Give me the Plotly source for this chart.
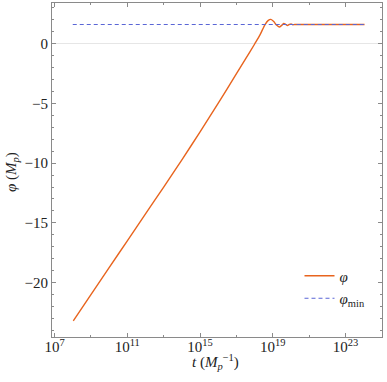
import numpy as np
import plotly.graph_objects as go

log_t = [8.03, 9.0, 10.0, 11.0, 12.0, 13.0, 14.0, 15.0, 16.0, 17.0, 17.5, 18.0,
         18.3, 18.57, 18.75, 18.89, 19.05, 19.2, 19.35, 19.5, 19.6, 19.7, 19.8,
         19.9, 20.0, 20.1, 20.2, 21.0, 22.0, 23.0, 24.04]
phi = [-23.2, -21.0, -18.75, -16.5, -14.25, -12.0, -9.72, -7.38, -4.98, -2.52, -1.28, -0.03,
       0.75, 1.6, 1.95, 2.03, 1.85, 1.55, 1.39, 1.55, 1.68, 1.62, 1.52,
       1.6, 1.65, 1.58, 1.6, 1.6, 1.6, 1.6, 1.6]

phi_min_t = [1e8, 1e24]
phi_min = [1.6, 1.6]

x_tick_exp = [7, 11, 15, 19, 23]
x_minor_exp = [9, 13, 17, 21, 25]
y_ticks = [0, -5, -10, -15, -20]

t = [10.0 ** v for v in log_t]

font = "Liberation Serif"
frame_color = "#8a8a8a"
tick_font = dict(family=font, size=15, color='#222')

fig = go.Figure()
fig.add_trace(go.Scatter(
    x=t, y=phi, mode='lines', name='<i>φ</i>',
    line=dict(color='#e8641e', width=1.4, shape='spline', smoothing=0.8),
))
fig.add_trace(go.Scatter(
    x=phi_min_t, y=phi_min, mode='lines', name='<i>φ</i><sub>min</sub>',
    line=dict(color='#5a66d6', width=1.2, dash='4px,3px'),
))

fig.update_layout(
    width=387, height=382,
    margin=dict(l=52, r=5, t=3, b=45),
    paper_bgcolor='white', plot_bgcolor='white',
    font=dict(family=font, size=15, color='#222'),
    showlegend=True,
    legend=dict(x=0.75, y=0.232, xanchor='left', yanchor='top',
                bgcolor='rgba(0,0,0,0)', font=dict(family=font, size=15),
                itemwidth=30, tracegroupgap=0),
)

# axis titles as annotations so they sit where the reference has them
fig.add_annotation(text='<i>t</i> (<i>M</i><sub><i>p</i></sub><sup>−1</sup>)',
                   xref='paper', yref='paper', x=0.494, y=-0.075,
                   xanchor='center', yanchor='middle',
                   showarrow=False, font=dict(family=font, size=15, color='#222'))
fig.add_annotation(text='<i>φ</i> (<i>M</i><sub><i>p</i></sub>)',
                   xref='paper', yref='paper', x=-0.121, y=0.494, textangle=-90,
                   xanchor='center', yanchor='middle',
                   showarrow=False, font=dict(family=font, size=15, color='#222'))

fig.update_xaxes(
    type='log', range=[6.86, 25.0],
    tickvals=[10.0 ** e for e in x_tick_exp],
    ticktext=['10<sup>%d</sup>' % e for e in x_tick_exp],
    tickfont=tick_font, ticklabelstandoff=-4,
    ticks='inside', ticklen=4, tickcolor=frame_color,
    minor=dict(tickvals=[10.0 ** e for e in x_minor_exp], ticks='inside', ticklen=2, tickcolor=frame_color),
    showline=True, linecolor=frame_color, linewidth=1, mirror='ticks',
    showgrid=False, zeroline=False,
)
fig.update_yaxes(
    range=[-24.55, 3.4],
    tickvals=y_ticks,
    ticktext=['0' if v == 0 else '−%d' % abs(v) for v in y_ticks],
    tickfont=tick_font,
    ticks='inside', ticklen=4, tickcolor=frame_color,
    minor=dict(dtick=1, ticks='inside', ticklen=2, tickcolor=frame_color),
    showline=True, linecolor=frame_color, linewidth=1, mirror='ticks',
    showgrid=False, zeroline=True, zerolinecolor='#e6e6e6', zerolinewidth=1.2,
)

# the page body has a default 8px margin; drop it so the figure fills the window
fig.write_html("out.html", config={'displayModeBar': False},
               post_script="document.body.style.margin='0';")
